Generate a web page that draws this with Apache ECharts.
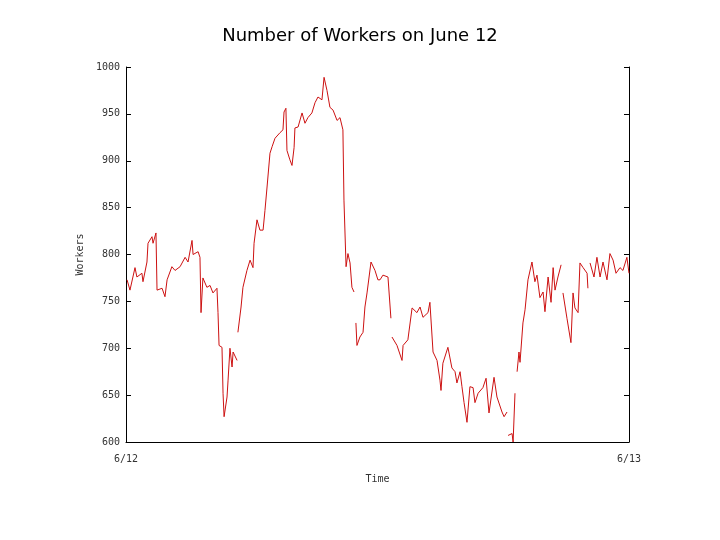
<!DOCTYPE html>
<html>
<head>
<meta charset="utf-8">
<script src="https://cdn.jsdelivr.net/npm/echarts@6/dist/echarts.min.js"></script>
<style>html,body{margin:0;padding:0;background:#fff}#chart{width:720px;height:540px}</style>
</head>
<body>
<div id="chart"></div>
<script>
// hours since 6/12 00:00, null value = gap in the record
var timeH = [0.05,0.19,0.43,0.52,0.76,0.81,1.00,1.05,1.24,1.29,1.43,1.48,1.72,1.86,1.96,2.19,2.34,2.58,2.82,2.96,3.15,3.20,3.44,3.53,3.58,3.67,3.86,4.01,4.15,4.34,4.39,4.44,4.58,4.63,4.68,4.82,4.87,4.96,5.06,5.11,5.30,5.32,5.34,5.49,5.58,5.77,5.92,6.06,6.11,6.25,6.39,6.54,6.63,6.73,6.87,6.97,7.11,7.35,7.49,7.54,7.63,7.68,7.82,7.92,8.02,8.06,8.21,8.40,8.54,8.68,8.87,9.02,9.16,9.35,9.45,9.59,9.73,9.88,10.07,10.21,10.35,10.40,10.50,10.59,10.69,10.78,10.88,10.92,10.97,11.02,11.16,11.31,11.40,11.50,11.69,11.88,12.02,12.12,12.26,12.50,12.64,12.66,12.69,12.93,13.17,13.22,13.45,13.65,13.88,14.03,14.17,14.41,14.50,14.65,14.84,14.98,15.03,15.12,15.36,15.55,15.70,15.79,15.94,16.03,16.13,16.27,16.41,16.56,16.65,16.80,17.03,17.18,17.32,17.56,17.70,17.94,18.04,18.18,18.20,18.23,18.42,18.47,18.56,18.61,18.66,18.75,18.80,18.94,19.04,19.18,19.37,19.51,19.61,19.75,19.90,19.99,20.14,20.28,20.38,20.47,20.61,20.76,20.80,20.85,21.04,21.23,21.33,21.42,21.57,21.66,21.81,22.00,22.04,22.09,22.14,22.33,22.47,22.62,22.76,22.95,23.09,23.24,23.38,23.57,23.71,23.90,24.00];
var workers = [773,762,786,776,780,771,792,812,819,812,823,762,764,755,773,787,783,787,797,792,815,800,803,797,738,775,765,767,759,764,738,703,701,652,627,648,666,700,680,696,687,null,717,744,765,783,794,786,812,837,826,826,847,872,908,915,924,930,933,952,956,911,901,895,914,935,936,951,940,946,951,962,968,965,989,975,957,954,943,946,933,858,787,801,791,765,760,null,727,703,712,717,744,759,792,783,773,773,778,776,732,null,712,703,687,703,709,743,738,744,733,738,749,696,687,666,655,684,701,679,675,663,675,659,642,621,659,658,642,652,658,668,631,669,648,632,627,632,null,607,609,600,652,null,675,696,685,727,741,773,792,771,778,754,760,739,776,749,786,762,776,789,null,759,732,706,759,743,738,791,786,780,764,null,791,776,797,776,792,773,801,794,780,786,783,797,780];
var yTicks = [600, 650, 700, 750, 800, 850, 900, 950, 1000];

var pts = timeH.map(function (t, i) { return [t, workers[i]]; });
var mono = 'DejaVu Sans Mono';
var chart = echarts.init(document.getElementById('chart'));
chart.setOption({
  animation: false,
  title: {
    text: 'Number of Workers on June 12', left: 'center', top: 22,
    textStyle: { fontFamily: 'DejaVu Sans', fontWeight: 'normal', fontSize: 18, color: '#000' }
  },
  grid: { left: 126, right: 91, top: 67, bottom: 98 },
  xAxis: {
    type: 'value', min: 0, max: 24, interval: 24,
    name: 'Time', nameLocation: 'middle', nameGap: 32,
    nameTextStyle: { fontFamily: mono, fontSize: 10, color: '#333' },
    axisLine: { show: true, lineStyle: { color: '#000' } },
    axisTick: { show: false }, splitLine: { show: false },
    axisLabel: { fontFamily: mono, fontSize: 10, color: '#333', margin: 12,
      formatter: function (v) { return v === 0 ? '6/12' : '6/13'; } }
  },
  yAxis: [{
    type: 'value', min: yTicks[0], max: yTicks[yTicks.length - 1], interval: 50,
    name: 'Workers', nameLocation: 'middle', nameGap: 37, nameRotate: 90,
    nameTextStyle: { fontFamily: mono, fontSize: 10, color: '#333' },
    axisLine: { show: true, lineStyle: { color: '#000' } },
    axisTick: { show: true, inside: true, length: 5, lineStyle: { color: '#000' } },
    splitLine: { show: false },
    axisLabel: { fontFamily: mono, fontSize: 10, color: '#333', margin: 6,
      formatter: function (v) { return String(v); } }
  }, {
    type: 'value', min: yTicks[0], max: yTicks[yTicks.length - 1], interval: 50, position: 'right',
    axisLine: { show: true, lineStyle: { color: '#000' } },
    axisTick: { show: true, inside: true, length: 5, lineStyle: { color: '#000' } },
    axisLabel: { show: false }, splitLine: { show: false }
  }],
  series: [{
    type: 'line', data: pts, showSymbol: false, connectNulls: false,
    lineStyle: { color: '#cc1111', width: 1 }
  }]
});
</script>
</body>
</html>
